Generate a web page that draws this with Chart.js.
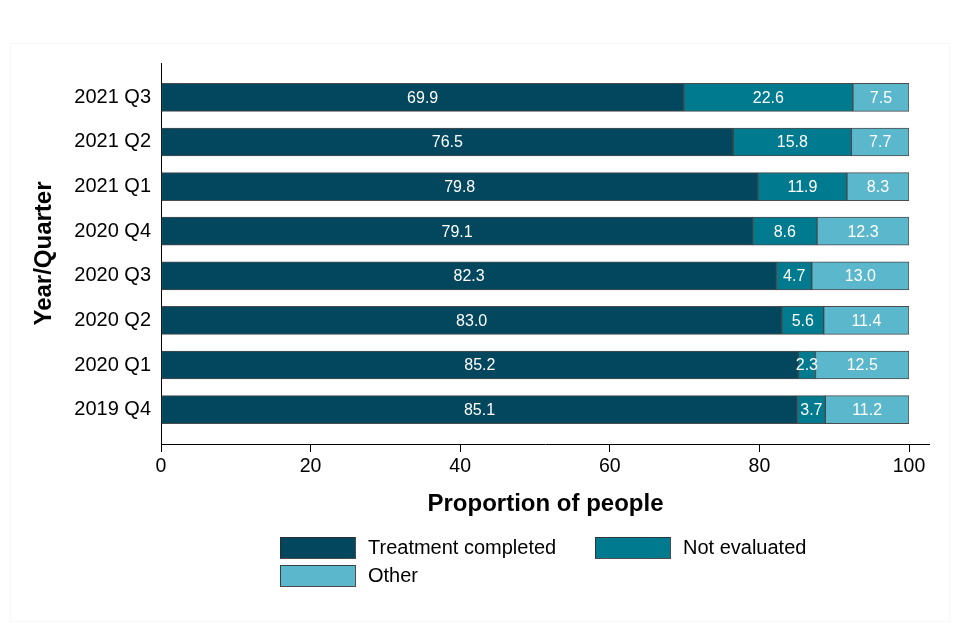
<!DOCTYPE html>
<html>
<head>
<meta charset="utf-8">
<script src="https://cdn.jsdelivr.net/npm/chart.js@4"></script>
<style>
  body { margin: 0; background: #fff; }
  #wrap { width: 960px; height: 640px; }
</style>
</head>
<body>
<div id="wrap"><canvas id="chart" width="960" height="640"></canvas></div>
<script>
const canvasElement = document.getElementById("chart")

// top to bottom, as in the picture
const quarters = ["2021 Q3", "2021 Q2", "2021 Q1", "2020 Q4", "2020 Q3", "2020 Q2", "2020 Q1", "2019 Q4"]
const treatmentCompleted = [69.9, 76.5, 79.8, 79.1, 82.3, 83.0, 85.2, 85.1]
const notEvaluated = [22.6, 15.8, 11.9, 8.6, 4.7, 5.6, 2.3, 3.7]
const other = [7.5, 7.7, 8.3, 12.3, 13.0, 11.4, 12.5, 11.2]
const xTicks = [0, 20, 40, 60, 80, 100]

const colours = ["#02475e", "#007a8f", "#5bb8cc"]

const toPoints = (values) => values.map((v, i) => ({ x: v, y: i }))

const data = {
  datasets: [
    { label: "Treatment completed", data: toPoints(treatmentCompleted), backgroundColor: colours[0] },
    { label: "Not evaluated", data: toPoints(notEvaluated), backgroundColor: colours[1] },
    { label: "Other", data: toPoints(other), backgroundColor: colours[2] }
  ].map(ds => Object.assign(ds, {
    borderColor: "rgba(45,45,45,0.85)",
    borderWidth: 1,
    borderSkipped: false,
    barThickness: 28
  }))
}

Chart.defaults.font.family = "'Liberation Sans', Arial, sans-serif";
Chart.defaults.color = "#000";

// white numbers in the middle of each segment
const segmentLabels = {
  id: "segmentLabels",
  afterDatasetsDraw(chart) {
    const ctx = chart.ctx
    ctx.save()
    ctx.font = "16px 'Liberation Sans', Arial, sans-serif"
    ctx.fillStyle = "#fff"
    ctx.textAlign = "center"
    ctx.textBaseline = "middle"
    chart.data.datasets.forEach((ds, d) => {
      chart.getDatasetMeta(d).data.forEach((bar, i) => {
        const p = bar.getProps(["x", "y", "base"], true)
        ctx.fillText(ds.data[i].x.toFixed(1), (p.x + p.base) / 2, p.y + 1)
      })
    })
    ctx.restore()
  }
}

// frame, long x axis line, axis titles and legend
const decorations = {
  id: "decorations",
  beforeDraw(chart) {
    const ctx = chart.ctx
    ctx.save()
    ctx.fillStyle = "#fff"
    ctx.fillRect(0, 0, chart.width, chart.height)
    ctx.strokeStyle = "#f7f7f7"
    ctx.lineWidth = 1
    ctx.strokeRect(10.5, 43.5, 939, 578)
    ctx.restore()
  },
  afterDraw(chart) {
    const ctx = chart.ctx
    const area = chart.chartArea
    ctx.save()
    ctx.strokeStyle = "#000"
    ctx.lineWidth = 1
    ctx.beginPath()
    ctx.moveTo(area.left, area.bottom + 0.5)
    ctx.lineTo(area.right + 21, area.bottom + 0.5)
    ctx.stroke()

    ctx.fillStyle = "#000"
    ctx.font = "bold 24px 'Liberation Sans', Arial, sans-serif"
    ctx.textAlign = "center"
    ctx.textBaseline = "middle"
    ctx.fillText("Proportion of people", (area.left + area.right + 21) / 2, 504)
    ctx.translate(44, (area.top + area.bottom) / 2)
    ctx.rotate(-Math.PI / 2)
    ctx.fillText("Year/Quarter", 0, 0)
    ctx.restore()

    const slots = [[280, 537], [595, 537], [280, 565]]
    ctx.save()
    ctx.font = "20px 'Liberation Sans', Arial, sans-serif"
    ctx.textBaseline = "middle"
    chart.data.datasets.forEach((ds, d) => {
      const [x, y] = slots[d]
      ctx.fillStyle = ds.backgroundColor
      ctx.fillRect(x, y, 75, 21)
      ctx.strokeStyle = "rgba(45,45,45,0.85)"
      ctx.strokeRect(x + 0.5, y + 0.5, 75, 21)
      ctx.fillStyle = "#000"
      ctx.fillText(ds.label, x + 88, y + 11)
    })
    ctx.restore()
  }
}

const config = {
  type: "bar",
  data: data,
  options: {
    indexAxis: "y",
    responsive: false,
    animation: false,
    layout: { padding: { top: 63, right: 51, left: 0, bottom: 0 } },
    scales: {
      x: {
        type: "linear",
        stacked: true,
        min: 0,
        max: 100,
        afterBuildTicks: (scale) => { scale.ticks = xTicks.map(v => ({ value: v })) },
        afterFit: (scale) => { scale.height = 196 },
        ticks: { font: { size: 19.5 }, padding: 3 },
        grid: { drawOnChartArea: false, drawTicks: true, tickLength: 8, color: "#000" },
        border: { display: false }
      },
      y: {
        type: "linear",
        stacked: true,
        reverse: true,
        offset: false,
        min: -0.77,
        max: 7.77,
        afterBuildTicks: (scale) => { scale.ticks = quarters.map((_, i) => ({ value: i })) },
        afterFit: (scale) => { scale.width = 161 },
        ticks: {
          font: { size: 20 },
          padding: 10,
          callback: (value) => quarters[value]
        },
        grid: { display: false, drawTicks: false },
        border: { display: true, color: "#000", width: 1 }
      }
    },
    plugins: {
      legend: { display: false },
      tooltip: { enabled: false }
    }
  },
  plugins: [segmentLabels, decorations]
}

const proportionChart = new Chart(canvasElement, config)
</script>
</body>
</html>
